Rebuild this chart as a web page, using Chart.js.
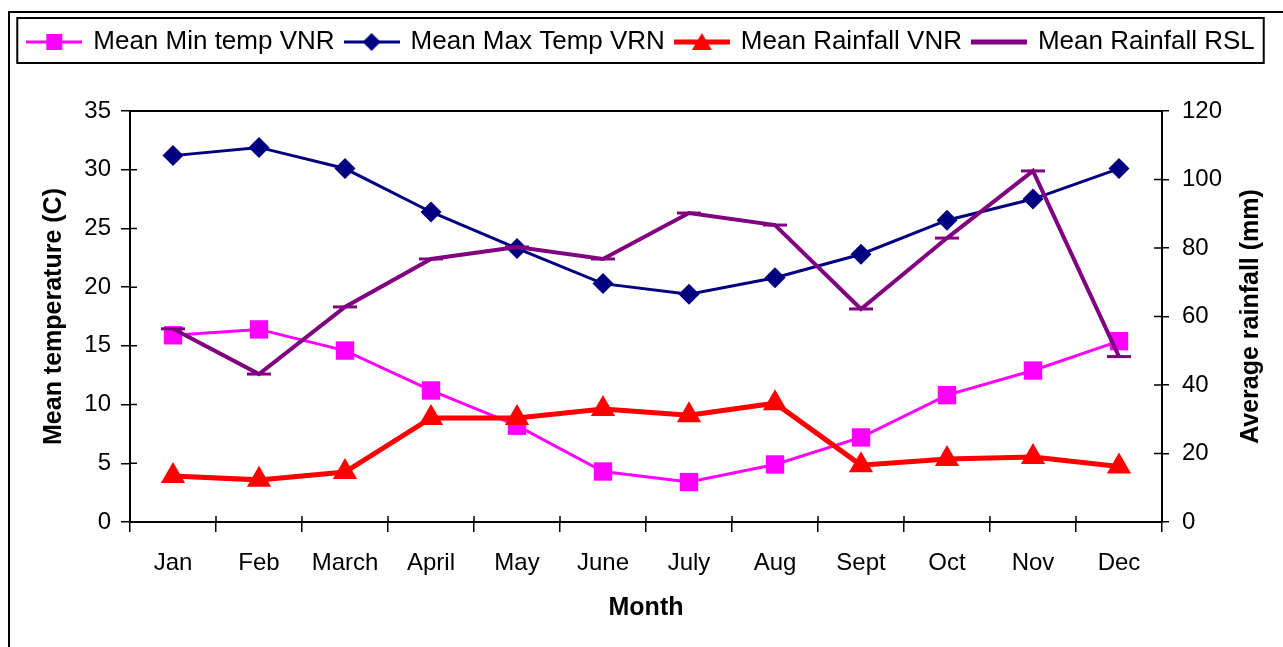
<!DOCTYPE html>
<html>
<head>
<meta charset="utf-8">
<script src="https://cdn.jsdelivr.net/npm/chart.js@4.4.1/dist/chart.umd.min.js"></script>
<style>
  html, body { margin: 0; padding: 0; background: #fff; overflow: hidden; }
  #wrap { position: absolute; left: 0; top: 0; width: 1283px; height: 647px; }
  #frame { position: absolute; left: 8px; top: 11px; width: 1400px; height: 800px;
           border: 2px solid #000; pointer-events: none; }
</style>
</head>
<body>
<div id="wrap"><canvas id="climateChart"></canvas></div>
<div id="frame"></div>
<script>
// datos
const months = ['Jan', 'Feb', 'March', 'April', 'May', 'June', 'July', 'Aug', 'Sept', 'Oct', 'Nov', 'Dec'];
const minTempVNR = [15.9, 16.4, 14.6, 11.2, 8.2, 4.3, 3.4, 4.9, 7.2, 10.8, 12.9, 15.4];
const maxTempVRN = [31.2, 31.9, 30.1, 26.4, 23.3, 20.3, 19.4, 20.8, 22.8, 25.7, 27.5, 30.1];
const rainVNR = [13.4, 12.3, 14.6, 30.4, 30.4, 33.0, 31.2, 34.7, 16.6, 18.4, 19.0, 16.2];
const rainRSL = [56.4, 43.2, 62.8, 76.8, 80.3, 76.8, 90.2, 86.7, 62.2, 82.9, 102.5, 48.3];
const tempTicks = [0, 5, 10, 15, 20, 25, 30, 35];
const rainTicks = [0, 20, 40, 60, 80, 100, 120];

const FONT = 'Arial, "Liberation Sans", sans-serif';

// icono de leyenda: linea con marcador en el centro
function legendIcon(color, lineWidth, marker) {
  const c = document.createElement('canvas');
  c.width = 56;
  c.height = 24;
  const g = c.getContext('2d');
  g.strokeStyle = color;
  g.fillStyle = color;
  g.lineWidth = lineWidth;
  g.beginPath();
  g.moveTo(0, 12);
  g.lineTo(56, 12);
  g.stroke();
  g.beginPath();
  if (marker === 'square') {
    g.rect(20, 4, 16, 16);
  } else if (marker === 'diamond') {
    g.moveTo(28, 3); g.lineTo(37, 12); g.lineTo(28, 21); g.lineTo(19, 12);
  } else if (marker === 'triangle') {
    g.moveTo(28, 3); g.lineTo(38, 20); g.lineTo(18, 20);
  }
  g.closePath();
  if (marker) g.fill();
  return c;
}

const icons = [
  legendIcon('#FF00FF', 3, 'square'),
  legendIcon('#000080', 3, 'diamond'),
  legendIcon('#FF0000', 5, 'triangle'),
  legendIcon('#800080', 5, null)
];

// marco del area, ticks hacia dentro, titulo derecho y caja de leyenda
const framePlugin = {
  id: 'framePlugin',
  beforeInit(chart) {
    const origFit = chart.legend.fit;
    chart.legend.fit = function () {
      origFit.bind(chart.legend)();
      this.height = 93;
    };
  },
  afterDraw(chart) {
    const ctx = chart.ctx;
    const a = chart.chartArea;
    const x = chart.scales.x;
    const y = chart.scales.y;
    const y1 = chart.scales.y1;
    ctx.save();
    ctx.strokeStyle = '#000';
    ctx.lineWidth = 2;
    ctx.beginPath();
    ctx.moveTo(a.left, a.top);
    ctx.lineTo(a.right, a.top);
    ctx.stroke();

    ctx.lineWidth = 1.5;
    ctx.beginPath();
    for (let i = 0; i <= months.length; i++) {
      const px = x.getPixelForValue(i - 0.5);
      ctx.moveTo(px, a.bottom);
      ctx.lineTo(px, a.bottom - 6);
    }
    y.ticks.forEach(t => {
      const py = y.getPixelForValue(t.value);
      ctx.moveTo(a.left, py);
      ctx.lineTo(a.left + 7, py);
    });
    y1.ticks.forEach(t => {
      const py = y1.getPixelForValue(t.value);
      ctx.moveTo(a.right, py);
      ctx.lineTo(a.right - 8, py);
    });
    ctx.stroke();

    // titulo del eje derecho, girado como en Excel
    ctx.fillStyle = '#000';
    ctx.font = 'bold 25px ' + FONT;
    ctx.textAlign = 'center';
    ctx.textBaseline = 'middle';
    ctx.translate(1251, (a.top + a.bottom) / 2);
    ctx.rotate(-Math.PI / 2);
    ctx.fillText('Average rainfall (mm)', 0, 0);
    ctx.setTransform(1, 0, 0, 1, 0, 0);

    // caja de la leyenda
    const boxes = chart.legend.legendHitBoxes;
    if (boxes && boxes.length) {
      let l = Infinity, r = -Infinity;
      boxes.forEach(b => {
        l = Math.min(l, b.left);
        r = Math.max(r, b.left + b.width);
      });
      ctx.lineWidth = 2;
      ctx.strokeRect(l - 11, 18, r - l + 20, 45);
    }
    ctx.restore();
  }
};

new Chart(document.getElementById('climateChart'), {
  type: 'line',
  data: {
    labels: months,
    datasets: [{
      label: 'Mean Min temp VNR',
      data: minTempVNR,
      yAxisID: 'y',
      borderColor: '#FF00FF',
      backgroundColor: '#FF00FF',
      borderWidth: 3,
      pointStyle: 'rect',
      pointRadius: 13,
      pointBorderWidth: 0,
      tension: 0,
      order: 4
    }, {
      label: 'Mean Max Temp VRN',
      data: maxTempVRN,
      yAxisID: 'y',
      borderColor: '#000080',
      backgroundColor: '#000080',
      borderWidth: 3,
      pointStyle: 'rectRot',
      pointRadius: 10.5,
      pointBorderWidth: 0,
      tension: 0,
      order: 3
    }, {
      label: 'Mean Rainfall VNR',
      data: rainVNR,
      yAxisID: 'y1',
      borderColor: '#FF0000',
      backgroundColor: '#FF0000',
      borderWidth: 5,
      pointStyle: 'triangle',
      pointRadius: 14,
      pointBorderWidth: 0,
      tension: 0,
      order: 2
    }, {
      label: 'Mean Rainfall RSL',
      data: rainRSL,
      yAxisID: 'y1',
      borderColor: '#800080',
      backgroundColor: '#800080',
      borderWidth: 4,
      pointStyle: 'line',
      pointRadius: 12,
      pointBorderWidth: 3,
      pointBorderColor: '#800080',
      tension: 0,
      order: 1
    }]
  },
  options: {
    responsive: true,
    maintainAspectRatio: false,
    animation: false,
    layout: { padding: { top: 18, left: 0, right: 0, bottom: 0 } },
    plugins: {
      tooltip: { enabled: false },
      legend: {
        position: 'top',
        labels: {
          usePointStyle: true,
          pointStyleWidth: 52,
          padding: 11,
          color: '#000',
          font: { family: FONT, size: 26 },
          generateLabels(chart) {
            return chart.data.datasets.map((ds, i) => ({
              text: ds.label,
              pointStyle: icons[i],
              datasetIndex: i,
              hidden: false,
              lineWidth: 0,
              fillStyle: 'rgba(0,0,0,0)',
              strokeStyle: 'rgba(0,0,0,0)',
              fontColor: '#000'
            }));
          }
        }
      }
    },
    scales: {
      x: {
        offset: true,
        afterFit: s => { s.height = 125; },
        border: { color: '#000', width: 2 },
        grid: { offset: true, drawOnChartArea: false, color: '#000', tickLength: 10, lineWidth: 1.5 },
        ticks: { color: '#000', padding: 17, maxRotation: 0, autoSkip: false, font: { family: FONT, size: 24 } },
        title: {
          display: true,
          text: 'Month',
          color: '#000',
          font: { family: FONT, size: 25, weight: 'bold' },
          padding: { top: 0, bottom: 24 }
        }
      },
      y: {
        position: 'left',
        min: 0,
        max: 35,
        afterFit: s => { s.width = 130; },
        afterBuildTicks: s => { s.ticks = tempTicks.map(v => ({ value: v })); },
        border: { color: '#000', width: 2 },
        grid: { drawOnChartArea: false, color: '#000', tickLength: 9, lineWidth: 1.5 },
        ticks: { color: '#000', padding: 10, font: { family: FONT, size: 24 } },
        title: {
          display: true,
          text: 'Mean temperature (C)',
          color: '#000',
          font: { family: FONT, size: 25, weight: 'bold' },
          padding: { top: 39, bottom: 0 }
        }
      },
      y1: {
        position: 'right',
        min: 0,
        max: 120,
        afterFit: s => { s.width = 121; },
        afterBuildTicks: s => { s.ticks = rainTicks.map(v => ({ value: v })); },
        border: { color: '#000', width: 2 },
        grid: { drawOnChartArea: false, color: '#000', tickLength: 7, lineWidth: 1.5 },
        ticks: { color: '#000', padding: 13, font: { family: FONT, size: 24 } }
      }
    }
  },
  plugins: [framePlugin]
});
</script>
</body>
</html>
